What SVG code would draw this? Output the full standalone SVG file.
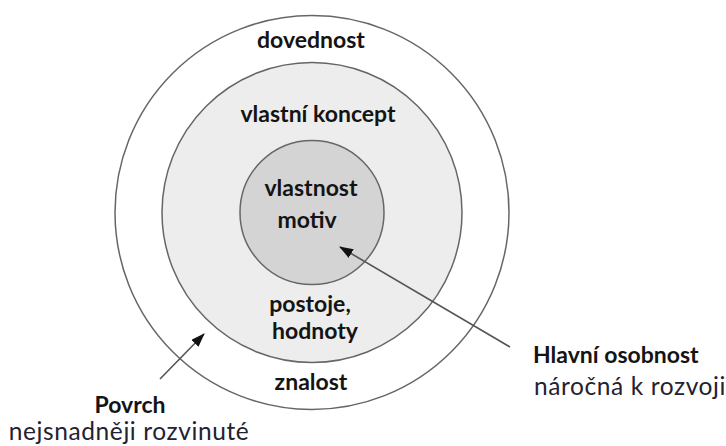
<svg xmlns="http://www.w3.org/2000/svg" width="726" height="446" viewBox="0 0 726 446">
<defs>
<style>
.ring{stroke:#666;stroke-width:1.5}
.lbl{font-family:Lato,"Liberation Sans",sans-serif;font-weight:bold;font-size:23px;fill:#141414;text-anchor:middle}
.sub{font-family:Lato,"Liberation Sans",sans-serif;font-size:24.5px;letter-spacing:0.6px;fill:#222233}
.conn{stroke:#555;stroke-width:1.6;fill:none;marker-end:url(#ah)}
</style>
<marker id="ah" viewBox="0 0 14 10" refX="13" refY="5" markerWidth="14" markerHeight="10" markerUnits="userSpaceOnUse" orient="auto">
<path d="M0,0 L14,5 L0,10 Z" fill="#111"/>
</marker>
</defs>
<rect width="726" height="446" fill="#fff"/>
<g id="outer">
<circle class="ring" cx="312" cy="212.5" r="197" fill="#fff"/>
<text class="lbl" x="311" y="48">dovednost</text>
<text class="lbl" x="311" y="390">znalost</text>
</g>
<g id="middle">
<circle class="ring" cx="312" cy="212.5" r="150" fill="#ededed"/>
<text class="lbl" x="318" y="122">vlastní koncept</text>
<text class="lbl" x="310" y="312">postoje,</text>
<text class="lbl" x="315" y="339">hodnoty</text>
</g>
<g id="inner">
<circle class="ring" cx="312" cy="212.5" r="72" fill="#d4d4d4"/>
<text class="lbl" x="311" y="196">vlastnost</text>
<text class="lbl" x="307" y="228">motiv</text>
</g>
<g id="connectors">
<line class="conn" x1="160" y1="379" x2="204" y2="334"/>
<line class="conn" x1="510" y1="347" x2="340" y2="247"/>
</g>
<g id="label-core">
<text class="lbl" x="533" y="363" style="text-anchor:start">Hlavní osobnost</text>
<text class="sub" x="534" y="395">náročná k rozvoji</text>
</g>
<g id="label-surface">
<text class="lbl" x="130" y="413">Povrch</text>
<text class="sub" x="129" y="440" text-anchor="middle">nejsnadněji rozvinuté</text>
</g>
</svg>
